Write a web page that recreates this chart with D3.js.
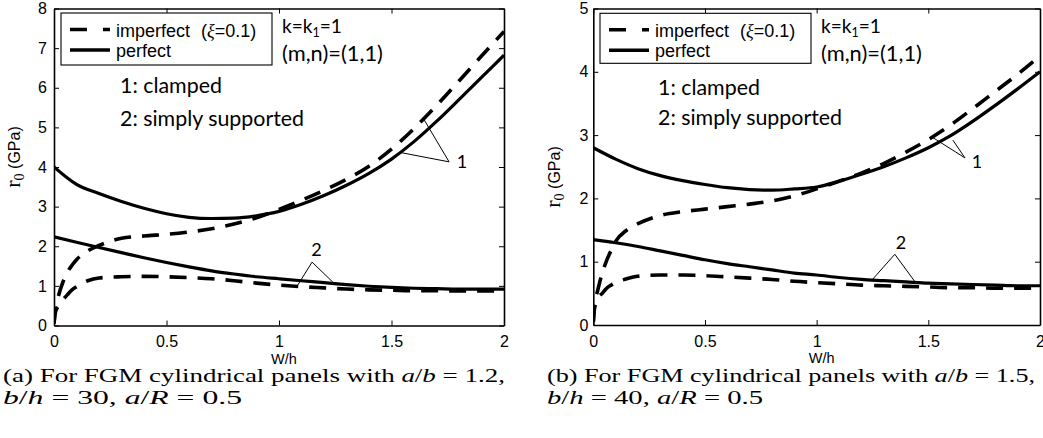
<!DOCTYPE html>
<html><head><meta charset="utf-8">
<script src="https://cdn.jsdelivr.net/npm/d3@7"></script>
<style>body{margin:0;background:#fff}svg{display:block}</style>
</head><body>
<svg id="c" width="1043" height="438"></svg>
<script>
// ---------- data ----------
const xTicks = [0, 0.5, 1, 1.5, 2];
const xTickLabels = ["0", "0.5", "1", "1.5", "2"];
const aYTicks = [0, 1, 2, 3, 4, 5, 6, 7, 8];
const bYTicks = [0, 1, 2, 3, 4, 5];

// W/h grid for perfect panels
const wh = [0, 0.1, 0.2, 0.3, 0.4, 0.5, 0.6, 0.7, 0.8, 0.9, 1.0, 1.1, 1.2, 1.3, 1.4, 1.5, 1.6, 1.7, 1.8, 1.9, 2.0];
// W/h grid for imperfect panels
const whImp = [0, 0.005, 0.02, 0.04, 0.06, 0.08, 0.1, 0.15, 0.2, 0.3, 0.4, 0.5, 0.6, 0.7, 0.8, 0.9, 1.0, 1.1, 1.2, 1.3, 1.4, 1.5, 1.6, 1.7, 1.8, 1.9, 2.0];

// (a) a/b=1.2, b/h=30
const aClampedPerfect = [4.0, 3.56, 3.33, 3.13, 2.96, 2.82, 2.73, 2.70, 2.71, 2.77, 2.88, 3.06, 3.28, 3.54, 3.84, 4.20, 4.64, 5.15, 5.70, 6.26, 6.82];
const aSimplyPerfect = [2.24, 2.10, 1.97, 1.84, 1.71, 1.59, 1.48, 1.38, 1.30, 1.23, 1.18, 1.13, 1.08, 1.03, 0.99, 0.96, 0.94, 0.93, 0.92, 0.92, 0.92];
const aClampedImperfect = [0.05, 0.35, 0.75, 1.10, 1.35, 1.52, 1.66, 1.88, 2.02, 2.20, 2.26, 2.30, 2.36, 2.44, 2.56, 2.72, 2.93, 3.16, 3.41, 3.69, 4.02, 4.45, 4.97, 5.55, 6.17, 6.80, 7.42];
const aSimplyImperfect = [0.05, 0.30, 0.50, 0.65, 0.78, 0.90, 0.98, 1.13, 1.20, 1.23, 1.24, 1.23, 1.21, 1.18, 1.13, 1.07, 1.02, 0.98, 0.95, 0.92, 0.90, 0.89, 0.88, 0.88, 0.87, 0.87, 0.87];

// (b) a/b=1.5, b/h=40
const bClampedPerfect = [2.80, 2.62, 2.47, 2.36, 2.28, 2.22, 2.17, 2.14, 2.13, 2.15, 2.18, 2.27, 2.38, 2.50, 2.64, 2.80, 2.99, 3.22, 3.47, 3.73, 4.00];
const bSimplyPerfect = [1.35, 1.30, 1.24, 1.17, 1.10, 1.03, 0.97, 0.92, 0.87, 0.82, 0.79, 0.75, 0.72, 0.70, 0.68, 0.66, 0.65, 0.64, 0.63, 0.62, 0.62];
const bClampedImperfect = [0.05, 0.30, 0.55, 0.82, 1.02, 1.18, 1.32, 1.50, 1.60, 1.73, 1.79, 1.83, 1.87, 1.91, 1.96, 2.04, 2.15, 2.27, 2.40, 2.55, 2.73, 2.93, 3.16, 3.42, 3.69, 3.96, 4.25];
const bSimplyImperfect = [0.05, 0.25, 0.42, 0.50, 0.58, 0.63, 0.67, 0.73, 0.77, 0.79, 0.79, 0.78, 0.76, 0.74, 0.72, 0.69, 0.67, 0.65, 0.63, 0.62, 0.61, 0.60, 0.59, 0.59, 0.58, 0.58, 0.58];

// annotation leaders in data units
const aNotes = [
  {label: "1", at: [1.813, 4.15], apex: [1.756, 4.13], ends: [[1.64, 5.24], [1.545, 4.36]]},
  {label: "2", at: [1.167, 1.91], apex: [1.147, 1.60], ends: [[1.079, 0.98], [1.249, 1.04]]}
];
const bNotes = [
  {label: "1", at: [1.718, 2.59], apex: [1.664, 2.64], ends: [[1.516, 2.97], [1.61, 2.92]]},
  {label: "2", at: [1.377, 1.31], apex: [1.35, 1.117], ends: [[1.25, 0.72], [1.44, 0.684]]}
];

// ---------- drawing ----------
const svg = d3.select("#c");
const SANS = "'Liberation Sans', Arial, sans-serif";
const SERIF = "'Liberation Serif', 'Times New Roman', serif";
const CAL = "Lato, 'Open Sans', sans-serif";

function fitWidth(sel, target) {
  const w = sel.node().getComputedTextLength();
  const fs = parseFloat(sel.attr("font-size"));
  const nf = fs * target / w;
  sel.attr("font-size", nf);
  return nf;
}

function panel(cfg) {
  const x = d3.scaleLinear().domain([0, 2]).range([cfg.left, cfg.right]);
  const y = d3.scaleLinear().domain([0, cfg.yMax]).range([cfg.bottom, cfg.top]);
  const g = svg.append("g");

  const clipId = "clip" + cfg.id;
  svg.append("defs").append("clipPath").attr("id", clipId)
    .append("rect").attr("x", cfg.left).attr("y", cfg.top)
    .attr("width", cfg.right - cfg.left).attr("height", cfg.bottom - cfg.top);

  const lineFor = xs => d3.line().x((d, i) => x(xs[i])).y(d => y(d)).curve(d3.curveMonotoneX);
  const curves = g.append("g").attr("clip-path", `url(#${clipId})`);
  const series = [
    {v: cfg.clampedPerfect, xs: wh, dash: null},
    {v: cfg.simplyPerfect, xs: wh, dash: null},
    {v: cfg.clampedImperfect, xs: whImp, dash: "17,11"},
    {v: cfg.simplyImperfect, xs: whImp, dash: "17,11"}
  ];
  series.forEach(s => {
    curves.append("path").datum(s.v).attr("d", lineFor(s.xs))
      .attr("fill", "none").attr("stroke", "#000")
      .attr("stroke-width", s.dash ? 3.6 : 3.2)
      .attr("stroke-dasharray", s.dash)
      .attr("stroke-linejoin", "round");
  });

  // axes
  const styleAxis = sel => {
    sel.attr("font-family", SANS).attr("font-size", 16);
    sel.select(".domain").attr("stroke", "#000").attr("stroke-width", 1.6);
    sel.selectAll(".tick line").attr("stroke", "#000").attr("stroke-width", 1);
    sel.selectAll(".tick text").attr("fill", "#000");
  };
  g.append("g").attr("transform", `translate(0,${cfg.bottom})`)
    .call(d3.axisBottom(x).tickValues(xTicks).tickFormat((d, i) => xTickLabels[i])
      .tickSize(-5).tickSizeOuter(0).tickPadding(10.5)).call(styleAxis);
  g.append("g").attr("transform", `translate(0,${cfg.top})`)
    .call(d3.axisTop(x).tickValues(xTicks).tickFormat("").tickSize(-5).tickSizeOuter(0)).call(styleAxis);
  g.append("g").attr("transform", `translate(${cfg.left},0)`)
    .call(d3.axisLeft(y).tickValues(cfg.yTicks).tickFormat(d3.format("d"))
      .tickSize(-5).tickSizeOuter(0).tickPadding(cfg.yPad)).call(styleAxis);
  g.append("g").attr("transform", `translate(${cfg.right},0)`)
    .call(d3.axisRight(y).tickValues(cfg.yTicks).tickFormat("").tickSize(-5).tickSizeOuter(0)).call(styleAxis);

  // x label
  g.append("text").attr("x", x(1) + 5).attr("y", cfg.bottom + 38)
    .attr("text-anchor", "middle").attr("font-family", SANS).attr("font-size", 14.5).text("W/h");

  // y label
  const yl = g.append("text")
    .attr("transform", `translate(${cfg.yLabX},${cfg.yLabY}) rotate(-90)`)
    .attr("text-anchor", "middle");
  yl.append("tspan").attr("font-family", SERIF).attr("font-size", 22).text("r");
  yl.append("tspan").attr("font-family", SERIF).attr("font-size", 14).attr("dy", 4).text("0");
  yl.append("tspan").attr("font-family", SANS).attr("font-size", 16).attr("dy", -4).text("\u00a0(GPa)");

  // legend
  const L = cfg.legend;
  g.append("rect").attr("x", L.x).attr("y", L.y).attr("width", L.w).attr("height", L.h)
    .attr("fill", "#fff").attr("stroke", "#000").attr("stroke-width", 1.1);
  g.append("line").attr("x1", L.x + 9).attr("x2", L.x + 49).attr("y1", L.y + 16.5).attr("y2", L.y + 16.5)
    .attr("stroke", "#000").attr("stroke-width", 3.4).attr("stroke-dasharray", "17,16");
  g.append("line").attr("x1", L.x + 9).attr("x2", L.x + 49).attr("y1", L.y + 37).attr("y2", L.y + 37)
    .attr("stroke", "#000").attr("stroke-width", 3.4);
  const lt1 = g.append("text").attr("x", L.x + 55).attr("y", L.y + 23.5)
    .attr("font-family", SANS).attr("font-size", 18);
  lt1.append("tspan").text("imperfect");
  lt1.append("tspan").attr("dx", 11).text("(");
  lt1.append("tspan").attr("font-family", SERIF).attr("font-style", "italic").text("\u03be");
  lt1.append("tspan").text("=0.1)");
  g.append("text").attr("x", L.x + 55).attr("y", L.y + 44)
    .attr("font-family", SANS).attr("font-size", 18).text("perfect");

  // k, (m,n)
  const kt = g.append("text").attr("x", cfg.kx).attr("y", 33).attr("font-family", CAL).attr("font-size", 18);
  kt.append("tspan").text("k=k");
  kt.append("tspan").attr("font-size", "0.65em").attr("dy", "0.3em").text("1");
  kt.append("tspan").attr("dy", "-0.2em").text("=1");
  fitWidth(kt, 60);
  const mn = g.append("text").attr("x", cfg.kx).attr("y", 61).attr("font-family", CAL).attr("font-size", 18).text("(m,n)=(1,1)");
  fitWidth(mn, 101);

  const c1 = g.append("text").attr("x", cfg.cx).attr("y", cfg.c1y).attr("font-family", CAL).attr("font-size", 18).text("1: clamped");
  const fs = fitWidth(c1, 102);
  g.append("text").attr("x", cfg.cx).attr("y", cfg.c2y).attr("font-family", CAL).attr("font-size", fs).text("2: simply supported");

  // annotation leaders
  cfg.notes.forEach(n => {
    n.ends.forEach(e => {
      g.append("line").attr("x1", x(n.apex[0])).attr("y1", y(n.apex[1]))
        .attr("x2", x(e[0])).attr("y2", y(e[1])).attr("stroke", "#000").attr("stroke-width", 1);
    });
    g.append("text").attr("x", x(n.at[0])).attr("y", y(n.at[1])).attr("dy", "0.36em")
      .attr("text-anchor", "middle").attr("font-family", CAL).attr("font-size", 18).text(n.label);
  });

  // caption (Computer Modern look: stretched serif)
  const cap1 = g.append("text").attr("x", cfg.capX).attr("y", 381.5).attr("font-family", SERIF).attr("font-size", 18.5)
    .attr("textLength", cfg.capW).attr("lengthAdjust", "spacingAndGlyphs");
  cap1.append("tspan").text(`(${cfg.id}) For FGM cylindrical panels with `);
  cap1.append("tspan").attr("font-style", "italic").text("a");
  cap1.append("tspan").text("/");
  cap1.append("tspan").attr("font-style", "italic").text("b");
  cap1.append("tspan").text(` = ${cfg.ab},`);
  const cap2 = g.append("text").attr("x", cfg.capX).attr("y", 404).attr("font-family", SERIF).attr("font-size", 18.5)
    .attr("textLength", cfg.cap2W).attr("lengthAdjust", "spacingAndGlyphs");
  cap2.append("tspan").attr("font-style", "italic").text("b");
  cap2.append("tspan").text("/");
  cap2.append("tspan").attr("font-style", "italic").text("h");
  cap2.append("tspan").text(` = ${cfg.bh}, `);
  cap2.append("tspan").attr("font-style", "italic").text("a");
  cap2.append("tspan").text("/");
  cap2.append("tspan").attr("font-style", "italic").text("R");
  cap2.append("tspan").text(" = 0.5");
}

panel({
  id: "a", left: 54, right: 504, top: 8.5, bottom: 325.5, yMax: 8, yTicks: aYTicks, yPad: 7,
  clampedPerfect: aClampedPerfect, simplyPerfect: aSimplyPerfect,
  clampedImperfect: aClampedImperfect, simplyImperfect: aSimplyImperfect,
  yLabX: 20, yLabY: 157,
  legend: {x: 61, y: 13, w: 211, h: 52},
  kx: 282, cx: 120, c1y: 93, c2y: 126,
  notes: aNotes, capX: 3, capW: 502, cap2W: 239, ab: "1.2", bh: "30"
});
panel({
  id: "b", left: 593.3, right: 1040, top: 8.5, bottom: 325, yMax: 5, yTicks: bYTicks, yPad: 5,
  clampedPerfect: bClampedPerfect, simplyPerfect: bSimplyPerfect,
  clampedImperfect: bClampedImperfect, simplyImperfect: bSimplyImperfect,
  yLabX: 560, yLabY: 177,
  legend: {x: 600, y: 13.3, w: 211, h: 50},
  kx: 821, cx: 658, c1y: 95, c2y: 125,
  notes: bNotes, capX: 547, capW: 488, cap2W: 216, ab: "1.5", bh: "40"
});
</script>
</body></html>
